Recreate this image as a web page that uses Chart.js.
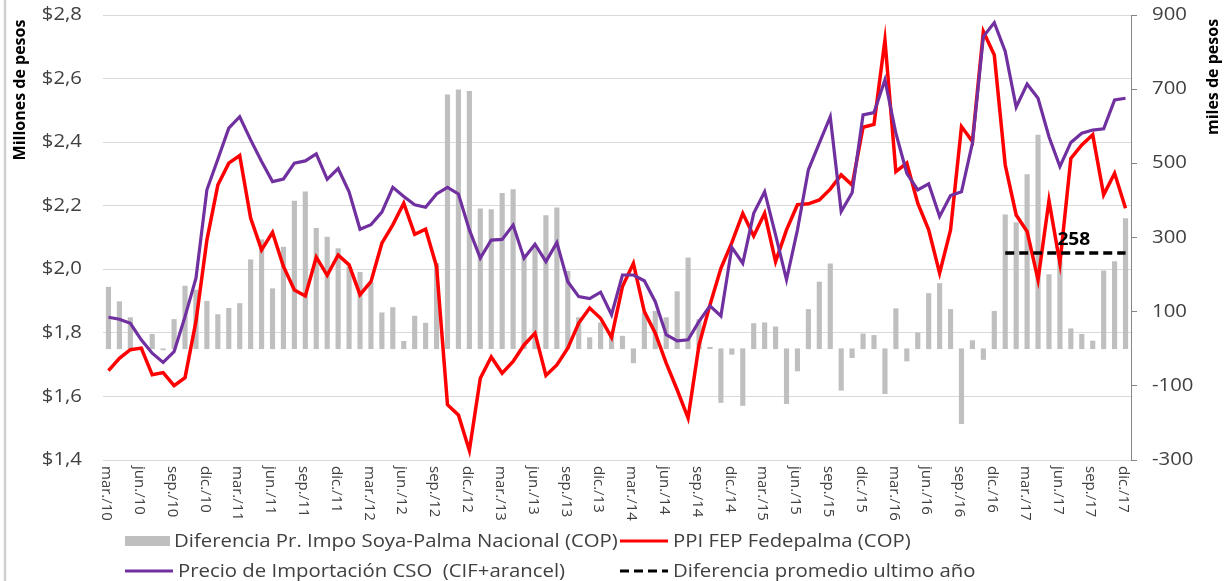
<!DOCTYPE html>
<html lang="es">
<head>
<meta charset="utf-8">
<title>Precio de importación CSO vs PPI Fedepalma</title>
<script src="https://cdn.jsdelivr.net/npm/chart.js@4.4.1/dist/chart.umd.min.js"></script>
<style>
  html, body { margin: 0; padding: 0; background: #fff; }
  #contenedor { position: relative; width: 1230px; height: 581px; }
</style>
</head>
<body>
<div id="contenedor"><canvas id="grafica"></canvas></div>
<script>
'use strict'

// meses del eje x (serie mensual mar/10 - dic/17)
const meses = ['ene', 'feb', 'mar', 'abr', 'may', 'jun', 'jul', 'ago', 'sep', 'oct', 'nov', 'dic'];
const categorias = [];
for (let a = 2010; a <= 2017; a++) {
  for (let m = 0; m < 12; m++) {
    if (a === 2010 && m < 2) continue;
    categorias.push(meses[m] + './' + String(a).slice(2));
  }
}

// Diferencia Pr. Impo Soya-Palma Nacional (miles de pesos)
const diferencia = [
  166, 127, 84, 2, 39, -3, 79, 169, 158, 128, 92, 109,
  122, 240, 294, 162, 274, 398, 423, 325, 301, 270, 220, 206,
  178, 97, 111, 20, 88, 69, 230, 685, 698, 694, 377, 375,
  419, 429, 255, 275, 359, 380, 209, 84, 30, 70, 34, 34,
  -38, 97, 101, 84, 154, 245, 79, 4, -145, -15, -153, 68,
  70, 59, -148, -60, 106, 180, 229, -112, -24, 40, 36, -121,
  108, -33, 43, 149, 176, 106, -202, 22, -29, 101, 361, 340,
  470, 576, 200, 237, 54, 39, 21, 210, 235, 351
];

// PPI FEP Fedepalma (millones de pesos)
const ppiFedepalma = [
  1.681, 1.720, 1.747, 1.752, 1.668, 1.675, 1.634, 1.659, 1.836, 2.092, 2.265, 2.334,
  2.358, 2.161, 2.061, 2.116, 2.009, 1.935, 1.916, 2.038, 1.981, 2.045, 2.014, 1.920,
  1.961, 2.082, 2.140, 2.208, 2.110, 2.126, 2.009, 1.574, 1.542, 1.430, 1.657, 1.724,
  1.673, 1.710, 1.762, 1.799, 1.666, 1.699, 1.752, 1.831, 1.878, 1.846, 1.786, 1.946,
  2.019, 1.867, 1.799, 1.705, 1.621, 1.532, 1.762, 1.888, 2.003, 2.084, 2.176, 2.105,
  2.176, 2.024, 2.124, 2.203, 2.206, 2.218, 2.252, 2.297, 2.265, 2.447, 2.456, 2.721,
  2.307, 2.334, 2.208, 2.124, 1.988, 2.124, 2.449, 2.402, 2.748, 2.674, 2.328, 2.171,
  2.119, 1.967, 2.216, 2.019, 2.349, 2.391, 2.423, 2.234, 2.302, 2.192
];

// Precio de Importación CSO (CIF+arancel), millones de pesos
const precioImportacion = [
  1.849, 1.843, 1.830, 1.778, 1.736, 1.707, 1.741, 1.851, 1.972, 2.250, 2.346, 2.444,
  2.480, 2.407, 2.339, 2.276, 2.284, 2.334, 2.341, 2.363, 2.283, 2.317, 2.244, 2.126,
  2.140, 2.180, 2.258, 2.229, 2.203, 2.195, 2.237, 2.258, 2.237, 2.124, 2.035, 2.092,
  2.094, 2.139, 2.035, 2.079, 2.024, 2.084, 1.961, 1.914, 1.908, 1.928, 1.857, 1.982,
  1.982, 1.964, 1.898, 1.794, 1.775, 1.778, 1.836, 1.885, 1.853, 2.069, 2.019, 2.176,
  2.244, 2.108, 1.967, 2.124, 2.313, 2.397, 2.480, 2.182, 2.241, 2.486, 2.493, 2.596,
  2.428, 2.302, 2.250, 2.269, 2.166, 2.232, 2.244, 2.397, 2.732, 2.776, 2.685, 2.510,
  2.583, 2.538, 2.417, 2.323, 2.399, 2.428, 2.438, 2.442, 2.533, 2.538
];

// promedio de la diferencia en los ultimos 12 meses
const promedioUltimoAnio = 258;
const mesesPromedio = 12;
const promedioSerie = categorias.map((c, i) => i >= categorias.length - mesesPromedio ? promedioUltimoAnio : null);

// ejes
const ticksMillones = { min: 1.4, max: 2.8, paso: 0.2 };
const ticksMiles = { min: -300, max: 900, paso: 200 };

const colorTexto = '#404040';
const fuente = "'Open Sans', sans-serif";
const anchoTexto = 1.13; // los textos horizontales salen un poco ensanchados
Chart.defaults.font.family = fuente;
Chart.defaults.color = colorTexto;

function texto(ctx, t, x, y, align) {
  ctx.save();
  ctx.translate(x, y);
  ctx.scale(anchoTexto, 1);
  ctx.textAlign = align;
  ctx.fillText(t, 0, 0);
  ctx.restore();
}

// textos dibujados a mano: ticks, eje x girado, titulos de ejes, leyenda y etiqueta del promedio
const textosExtra = {
  id: 'textosExtra',
  afterDraw(chart) {
    const ctx = chart.ctx;
    const xs = chart.scales.x;
    const yMillones = chart.scales.yMillones;
    const yMiles = chart.scales.yMiles;
    const area = chart.chartArea;
    const ds = chart.data.datasets;

    ctx.save();

    // marco izquierdo
    ctx.strokeStyle = '#D0D0D0';
    ctx.lineWidth = 2.5;
    ctx.beginPath();
    ctx.moveTo(5, 0);
    ctx.lineTo(5, chart.height);
    ctx.stroke();

    // ticks de los ejes y
    ctx.fillStyle = colorTexto;
    ctx.font = '18px ' + fuente;
    ctx.textBaseline = 'middle';
    yMillones.ticks.forEach(t => {
      texto(ctx, '$' + Number(t.value).toFixed(1).replace('.', ','), area.left - 21, yMillones.getPixelForValue(t.value), 'right');
    });
    yMiles.ticks.forEach(t => {
      texto(ctx, String(t.value), area.right + 21, yMiles.getPixelForValue(t.value), 'left');
    });

    // etiquetas del eje x (cada trimestre)
    ctx.font = '15px ' + fuente;
    ctx.textAlign = 'left';
    categorias.forEach((c, i) => {
      if (i % 3 !== 0) return;
      ctx.save();
      ctx.translate(xs.getPixelForValue(i) - 2, area.bottom + 6);
      ctx.rotate(Math.PI / 2);
      ctx.fillText(c, 0, 0);
      ctx.restore();
    });

    // titulos de ejes
    ctx.fillStyle = '#000';
    ctx.font = 'bold 16px ' + fuente;
    ctx.textAlign = 'center';
    ctx.save();
    ctx.translate(20, 90);
    ctx.rotate(-Math.PI / 2);
    ctx.fillText('Millones de pesos', 0, 0);
    ctx.restore();
    ctx.save();
    ctx.translate(1213, 77);
    ctx.rotate(-Math.PI / 2);
    ctx.fillText('miles de pesos', 0, 0);
    ctx.restore();

    // valor del promedio sobre la linea punteada
    ctx.font = 'bold 17px ' + fuente;
    texto(ctx, String(promedioUltimoAnio), xs.getPixelForValue(88) + 3, yMiles.getPixelForValue(promedioUltimoAnio) - 13, 'center');

    // leyenda (2 filas)
    const filas = [
      { x: 125, y: 541, d: ds[0] }, { x: 620, y: 541, d: ds[1] },
      { x: 125, y: 571, d: ds[2] }, { x: 620, y: 571, d: ds[3] }
    ];
    ctx.font = '18px ' + fuente;
    filas.forEach(f => {
      if (f.d.type === 'bar') {
        ctx.fillStyle = f.d.backgroundColor;
        ctx.fillRect(f.x, f.y - 5, 45, 10);
      } else {
        ctx.strokeStyle = f.d.borderColor;
        ctx.lineWidth = 3;
        ctx.setLineDash(f.d.borderDash || []);
        ctx.beginPath();
        ctx.moveTo(f.x, f.y);
        ctx.lineTo(f.x + 48, f.y);
        ctx.stroke();
        ctx.setLineDash([]);
      }
      ctx.fillStyle = colorTexto;
      texto(ctx, f.d.label, f.x + (f.d.type === 'bar' ? 49 : 53), f.y + 1, 'left');
    });

    ctx.restore();
  }
};

const config = {
  type: 'bar',
  data: {
    labels: categorias,
    datasets: [{
      type: 'bar',
      label: 'Diferencia Pr. Impo Soya-Palma Nacional (COP)',
      data: diferencia,
      yAxisID: 'yMiles',
      backgroundColor: '#BFBFBF',
      barThickness: 4.5,
      order: 4
    }, {
      type: 'line',
      label: 'PPI FEP Fedepalma (COP)',
      data: ppiFedepalma,
      yAxisID: 'yMillones',
      borderColor: '#FF0000',
      backgroundColor: '#FF0000',
      borderWidth: 3.5,
      pointRadius: 0,
      tension: 0,
      fill: false,
      order: 3
    }, {
      type: 'line',
      label: 'Precio de Importación CSO  (CIF+arancel)',
      data: precioImportacion,
      yAxisID: 'yMillones',
      borderColor: '#7030A0',
      backgroundColor: '#7030A0',
      borderWidth: 3.2,
      pointRadius: 0,
      tension: 0,
      fill: false,
      order: 2
    }, {
      type: 'line',
      label: 'Diferencia promedio ultimo año',
      data: promedioSerie,
      yAxisID: 'yMiles',
      borderColor: '#000000',
      backgroundColor: '#000000',
      borderDash: [9, 5],
      borderWidth: 3.5,
      pointRadius: 0,
      fill: false,
      order: 1
    }]
  },
  options: {
    responsive: true,
    maintainAspectRatio: false,
    animation: false,
    devicePixelRatio: 1,
    layout: { padding: { top: 15 } },
    plugins: {
      legend: { display: false },
      tooltip: { enabled: false },
      title: { display: false }
    },
    scales: {
      x: {
        type: 'category',
        offset: true,
        grid: { display: false },
        border: { display: false },
        ticks: { display: false },
        afterFit: (s) => { s.height = 121; }
      },
      yMillones: {
        position: 'left',
        min: ticksMillones.min,
        max: ticksMillones.max,
        grid: { color: '#D9D9D9', lineWidth: 1, drawTicks: false },
        border: { display: false },
        ticks: { stepSize: ticksMillones.paso, display: false },
        afterFit: (s) => { s.width = 103; }
      },
      yMiles: {
        position: 'right',
        min: ticksMiles.min,
        max: ticksMiles.max,
        grid: { drawOnChartArea: false, drawTicks: true, tickLength: 6, color: '#868686' },
        border: { display: true, color: '#868686', width: 1 },
        ticks: { stepSize: ticksMiles.paso, display: false },
        afterFit: (s) => { s.width = 99; }
      }
    }
  },
  plugins: [textosExtra]
};

const grafica = new Chart(document.getElementById('grafica'), config);
</script>
</body>
</html>
